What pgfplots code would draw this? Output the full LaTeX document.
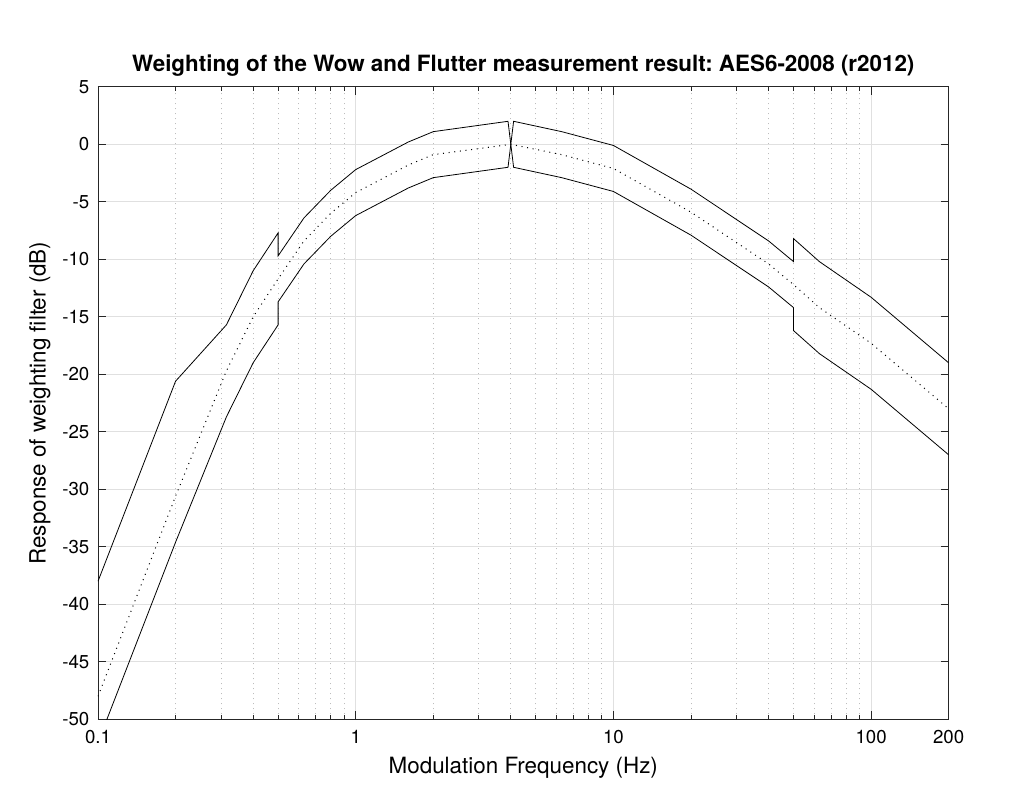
\documentclass[border=0pt]{standalone}
\usepackage{fontspec}
\setmainfont{TeX Gyre Heros}
\usepackage{xcolor}
\usepackage{pgfplots}
\pgfplotsset{compat=1.18}
\definecolor{mlaxis}{HTML}{262626}
\definecolor{mlgrid}{HTML}{E0E0E0}
\definecolor{mlminor}{HTML}{BDBDBD}

\begin{document}
\frenchspacing
\begin{tikzpicture}
% page = 1024x805 px at 0.75pt per px, axis box lower-left at origin
\path[use as bounding box] (-73.5pt,-64.3pt) rectangle (694.5pt,539.5pt);
\begin{axis}[
  xmode=log, log basis x=10,
  scale only axis, width=638pt, height=474.4pt,
  xmin=0.1, xmax=200, ymin=-50, ymax=5,
  xtick={0.1,1,10,100,200}, xticklabels={0.1,1,10,100,200},
  minor xtick={0.2,0.3,0.4,0.5,0.6,0.7,0.8,0.9,2,3,4,5,6,7,8,9,20,30,40,50,60,70,80,90},
  ytick={-50,-45,...,5},
  /pgf/number format/assume math mode=true,
  grid=both,
  major grid style={mlgrid, line width=0.6pt},
  minor grid style={mlminor, line width=0.6pt, dash pattern=on 0.75pt off 3pt},
  axis line style={mlaxis, line width=0.6pt},
  tick style={mlaxis, line width=0.6pt},
  major tick length=6pt, minor tick length=3pt,
  tick align=inside, tick pos=both,
  tick label style={font=\fontsize{14}{16}\selectfont, text=black},
  xticklabel style={yshift=-5pt},
  yticklabel style={xshift=-3pt},
  xlabel={Modulation Frequency (Hz)},
  ylabel={Response of weighting filter (dB)},
  label style={font=\fontsize{16.8}{19}\selectfont},
  xlabel style={yshift=-3pt},
  ylabel style={yshift=2pt},
  title={Weighting of the Wow and Flutter measurement result: AES6-2008 (r2012)},
  title style={font=\bfseries\fontsize{16.8}{19}\selectfont, yshift=-2pt},
]
% upper tolerance (left) joined to lower tolerance (right)
\addplot[black, line width=0.6pt] coordinates {
 (0.1,-38) (0.2,-20.6) (0.315,-15.7) (0.4,-11) (0.5,-7.7) (0.5,-9.7)
 (0.63,-6.4) (0.8,-4) (1,-2.2) (1.6,0.2) (2,1.1) (3.9,2)
 (4.1,-2) (6.3,-2.9) (10,-4.1) (20,-7.9) (40,-12.4) (50,-14.2)
 (50,-16.2) (63,-18.2) (100,-21.3) (200,-27)};
% lower tolerance (left) joined to upper tolerance (right)
\addplot[black, line width=0.6pt] coordinates {
 (0.1,-52) (0.2,-34.6) (0.315,-23.7) (0.4,-19) (0.5,-15.7) (0.5,-13.7)
 (0.63,-10.4) (0.8,-8) (1,-6.2) (1.6,-3.8) (2,-2.9) (3.9,-2)
 (4.1,2) (6.3,1.1) (10,-0.1) (20,-3.9) (40,-8.4) (50,-10.2)
 (50,-8.2) (63,-10.2) (100,-13.3) (200,-19)};
% nominal response
\addplot[black, line width=0.75pt, dash pattern=on 0.75pt off 3.5pt] coordinates {
 (0.1,-48) (0.2,-30.6) (0.315,-19.7) (0.4,-15) (0.5,-11.7) (0.63,-8.4)
 (0.8,-6) (1,-4.2) (1.6,-1.8) (2,-0.9) (4,0) (6.3,-0.9) (10,-2.1)
 (20,-5.9) (40,-10.4) (50,-12.2) (63,-14.2) (100,-17.3) (200,-23)};
\end{axis}
\end{tikzpicture}
\end{document}
